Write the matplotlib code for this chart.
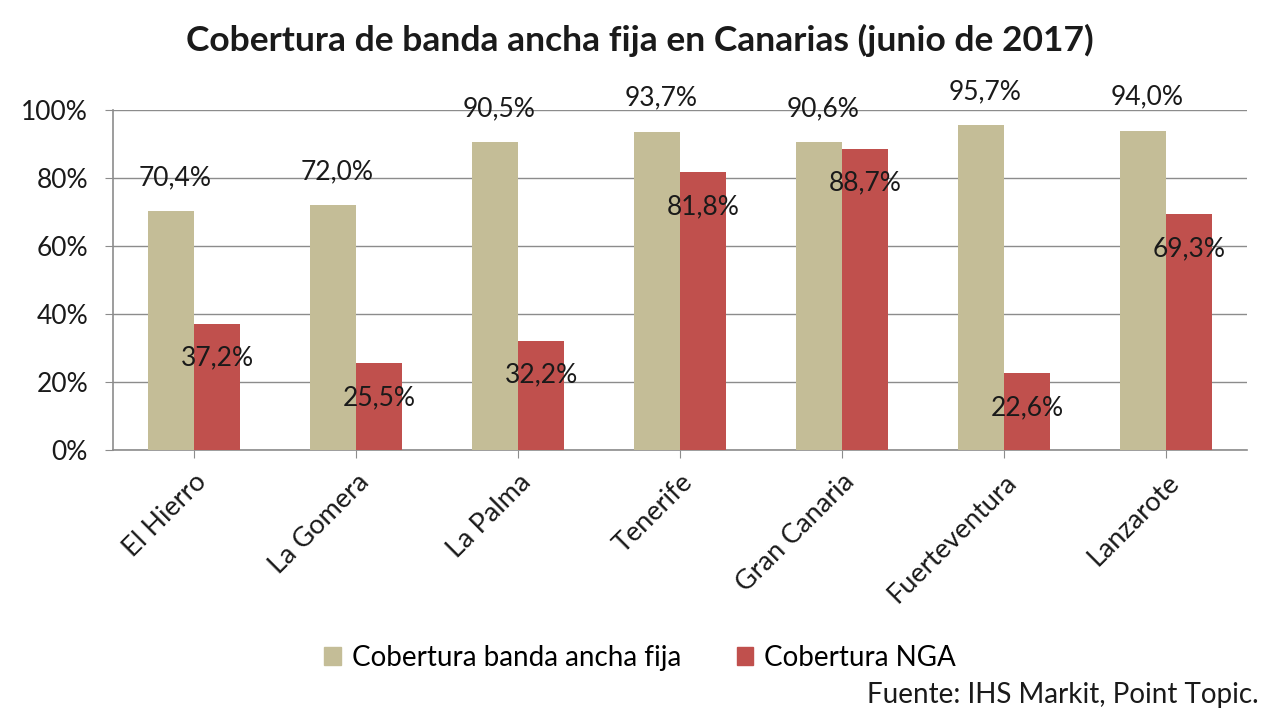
import matplotlib.pyplot as plt
import matplotlib as mpl
from matplotlib.patches import Patch
import numpy as np

islands = ["El Hierro", "La Gomera", "La Palma", "Tenerife",
           "Gran Canaria", "Fuerteventura", "Lanzarote"]
fija = [70.4, 72.0, 90.5, 93.7, 90.6, 95.7, 94.0]
nga = [37.2, 25.5, 32.2, 81.8, 88.7, 22.6, 69.3]
yticks = [0, 20, 40, 60, 80, 100]

BEIGE = "#C4BD97"
RED = "#C0504D"
TEXT = "#1a1a1a"
GRID = "#8c8c8c"

mpl.rcParams["font.family"] = ["Lato", "DejaVu Sans"]

fig = plt.figure(figsize=(12.8, 7.2), dpi=100)
ax = fig.add_axes([0.0883, 0.375, 0.886, 0.472])

x = np.arange(len(islands))
w = 0.285
ax.bar(x - w / 2, fija, w, color=BEIGE, zorder=3)
ax.bar(x + w / 2, nga, w, color=RED, zorder=3)

def fmt(v):
    return f"{v:.1f}%".replace(".", ",")

for xi, v in zip(x, fija):
    ax.annotate(fmt(v), (xi - w / 2, v), xytext=(3, 24), textcoords="offset points",
                ha="center", va="center", fontsize=19, color=TEXT, zorder=4)
for xi, v in zip(x, nga):
    ax.annotate(fmt(v), (xi + w / 2, v), xytext=(0, -25), textcoords="offset points",
                ha="center", va="center", fontsize=19, color=TEXT, zorder=4)

ax.set_xlim(-0.5, len(islands) - 0.5)
ax.set_ylim(0, 100)
ax.set_yticks(yticks)
ax.set_yticklabels([f"{t}%" for t in yticks], fontsize=19, color=TEXT)
ax.set_xticks(x)
ax.set_xticklabels(islands, rotation=45, ha="right", rotation_mode="anchor",
                   fontsize=19.5, color=TEXT)
ax.tick_params(axis="x", length=6, color=GRID, pad=8)
ax.tick_params(axis="y", length=6, color=GRID, pad=12)
ax.grid(axis="y", color=GRID, linewidth=1, zorder=0)
for s in ["top", "right"]:
    ax.spines[s].set_visible(False)
for s in ["left", "bottom"]:
    ax.spines[s].set_color(GRID)
    ax.spines[s].set_linewidth(1.2)

fig.text(0.5, 0.944, "Cobertura de banda ancha fija en Canarias (junio de 2017)",
         ha="center", va="center", fontsize=25.5, fontweight="bold", color=TEXT)

handles = [Patch(color=BEIGE, label="Cobertura banda ancha fija"),
           Patch(color=RED, label="Cobertura NGA")]
fig.legend(handles=handles, loc="center", bbox_to_anchor=(0.5, 0.086), ncol=2,
           frameon=False, fontsize=20, handlelength=0.6, handleheight=0.6,
           handletextpad=0.4, columnspacing=2.0)

fig.text(0.983, 0.035, "Fuente: IHS Markit, Point Topic.", ha="right", va="center",
         fontsize=20, color=TEXT)

fig.savefig("out.png", dpi=100, facecolor="white")
